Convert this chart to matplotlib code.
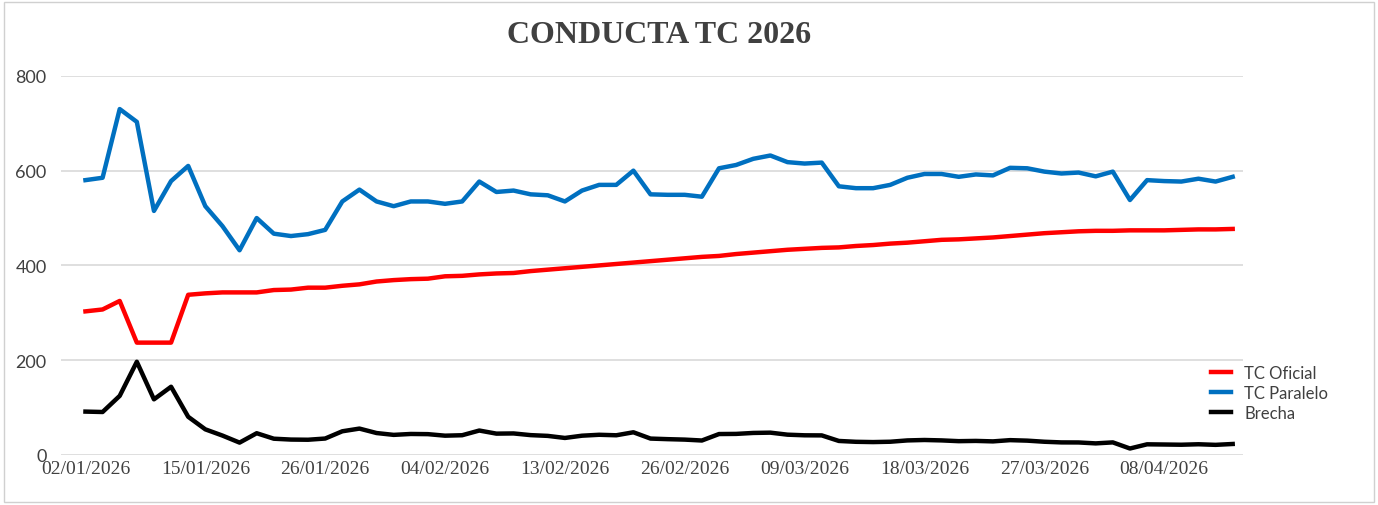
import matplotlib.pyplot as plt
import numpy as np

# series (one value per trading day)
tc_paralelo = [580, 585, 730, 703, 515, 578, 610, 525, 483, 432, 500, 467, 462, 466, 475,
               535, 560, 535, 525, 535, 535, 530, 535, 577, 555, 558, 550, 548, 535, 558,
               570, 570, 600, 550, 549, 549, 545, 605, 612, 625, 632, 618, 615, 617, 567,
               563, 563, 570, 585, 593, 593, 587, 592, 590, 606, 605, 598, 594, 596, 588,
               598, 538, 580, 578, 577, 583, 577, 587]
tc_oficial = [303, 307, 325, 237, 237, 237, 338, 341, 343, 343, 343, 348, 349, 353, 353,
              357, 360, 366, 369, 371, 372, 377, 378, 381, 383, 384, 388, 391, 394, 397,
              400, 403, 406, 409, 412, 415, 418, 420, 424, 427, 430, 433, 435, 437, 438,
              441, 443, 446, 448, 451, 454, 455, 457, 459, 462, 465, 468, 470, 472, 473,
              473, 474, 474, 474, 475, 476, 476, 477]
tick_labels = ['02/01/2026', '15/01/2026', '26/01/2026', '04/02/2026', '13/02/2026',
               '26/02/2026', '09/03/2026', '18/03/2026', '27/03/2026', '08/04/2026']

par = np.array(tc_paralelo, dtype=float)
ofi = np.array(tc_oficial, dtype=float)
brecha = (par / ofi - 1) * 100
x = np.arange(len(par))

fig = plt.figure(figsize=(13.78, 5.06), dpi=100)
ax = fig.add_axes([0.044, 0.099, 0.858, 0.749])
fig.patches.append(plt.Rectangle((0.003, 0.005), 0.994, 0.99, transform=fig.transFigure,
                                 fill=False, edgecolor='#d0d0d0', linewidth=1))

ax.plot(x, ofi, color='#ff0000', lw=3.2, label='TC Oficial')
ax.plot(x, par, color='#0070c0', lw=3.2, label='TC Paralelo')
ax.plot(x, brecha, color='#000000', lw=3.2, label='Brecha')

ax.set_xlim(-1.45, 67.6)
ax.set_ylim(0, 800)
ax.set_yticks([0, 200, 400, 600, 800])
ax.set_xticks(np.arange(0, 7 * len(tick_labels), 7))
ax.set_xticklabels(tick_labels, family='Liberation Serif', fontsize=14, color='#404040')
for t in ax.get_yticklabels():
    t.set_family('Lato')
    t.set_fontsize(13)
    t.set_color('#404040')
ax.tick_params(axis='y', length=0, pad=10)
ax.tick_params(axis='x', length=0, pad=4)
ax.grid(axis='y', color='#d9d9d9', lw=1.2)
ax.set_axisbelow(True)
for s in ax.spines.values():
    s.set_visible(False)

fig.text(0.478, 0.93, 'CONDUCTA TC 2026', ha='center', va='center',
         family='Liberation Serif', fontweight='bold', fontsize=23, color='#404040')

leg = ax.legend(loc='lower right', bbox_to_anchor=(1.085, 0.05), frameon=False,
                prop={'family': 'Lato', 'size': 12}, handlelength=1.2, labelspacing=0.25)
for t in leg.get_texts():
    t.set_color('#404040')

fig.savefig('out.png', dpi=100)
